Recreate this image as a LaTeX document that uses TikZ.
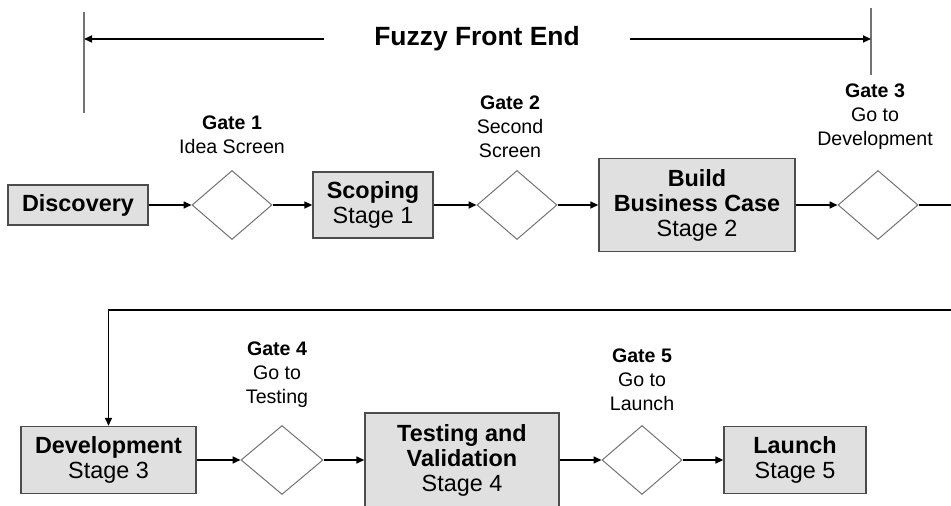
\documentclass[tikz,border=0pt]{standalone}
\usepackage{fontspec}
\setmainfont{Liberation Sans}
\usetikzlibrary{positioning, shapes.geometric, arrows.meta}

\begin{document}
\begin{tikzpicture}[
  x=0.5pt, y=-0.5pt,
  every node/.style={font=\fontsize{11.7}{12.5}\selectfont},
  box/.style={draw=black!70, fill=black!12, line width=0.7pt,
              align=center, inner sep=0pt},
  gate/.style={draw=black!55, shape=diamond, minimum width=40pt,
               minimum height=34.5pt, inner sep=0pt, line width=0.5pt},
  gatelabel/.style={align=center, font=\fontsize{9.8}{12}\selectfont},
  bound/.style={draw=black!55, line width=0.7pt},
  arr/.style={-{Triangle[length=4pt, width=3.5pt]}, line width=0.8pt},
]
  \useasboundingbox (0,0) rectangle (951,506);

  % Fuzzy front end span
  \node[font=\bfseries\fontsize{13.2}{14}\selectfont, inner xsep=25pt]
    (ffe) at (477,39) {Fuzzy Front End};
  \coordinate (ffeltop) at (84,12);
  \coordinate (ffelbot) at (84,113);
  \coordinate (ffertop) at (871,8);
  \coordinate (fferbot) at (871,75);
  \draw[bound] (ffeltop) -- (ffelbot);
  \draw[bound] (ffertop) -- (fferbot);
  \draw[arr] (ffe.west) -- (ffe.west -| ffeltop);
  \draw[arr] (ffe.east) -- (ffe.east -| ffertop);

  % First row
  \node[box, minimum width=70pt, minimum height=20pt]
    (disc) at (78,205) {\textbf{Discovery}};
  \node[gate] (g1) at (232,205) {};
  \node[box, minimum width=60pt, minimum height=33pt]
    (scop) at (373,205) {\textbf{Scoping}\\Stage 1};
  \node[gate] (g2) at (517,205) {};
  \node[box, minimum width=98pt, minimum height=46.5pt]
    (bbc) at (697,205) {\textbf{Build}\\\textbf{Business Case}\\Stage 2};
  \node[gate] (g3) at (878,205) {};

  \node[gatelabel] (l1) at (232,135) {\textbf{Gate 1}\\Idea Screen};
  \node[gatelabel] (l2) at (510,127) {\textbf{Gate 2}\\Second\\Screen};
  \node[gatelabel] (l3) at (875,116.5) {\textbf{Gate 3}\\Go to\\Development};

  % Second row
  \node[box, minimum width=87.5pt, minimum height=33.5pt]
    (dev) at (108.5,460) {\textbf{Development}\\Stage 3};
  \node[gate, minimum width=41pt] (g4) at (282,460) {};
  \node[box, minimum width=97pt, minimum height=47pt]
    (test) at (462,460) {\textbf{Testing and}\\\textbf{Validation}\\Stage 4};
  \node[gate] (g5) at (642,460) {};
  \node[box, minimum width=71pt, minimum height=33.5pt]
    (launch) at (795,460) {\textbf{Launch}\\Stage 5};

  \node[gatelabel] (l4) at (277,374.5) {\textbf{Gate 4}\\Go to\\Testing};
  \node[gatelabel] (l5) at (642,380) {\textbf{Gate 5}\\Go to\\Launch};

  % Flow
  \draw[arr] (disc) -- (g1);
  \draw[arr] (g1) -- (scop);
  \draw[arr] (scop) -- (g2);
  \draw[arr] (g2) -- (bbc);
  \draw[arr] (bbc) -- (g3);
  \coordinate (rowout) at (951,205);
  \draw[line width=0.8pt] (g3) -- (rowout);
  \coordinate (rowin) at (951,310);
  \draw[arr] (rowin) -| (dev);
  \draw[arr] (dev) -- (g4);
  \draw[arr] (g4) -- (test);
  \draw[arr] (test) -- (g5);
  \draw[arr] (g5) -- (launch);
\end{tikzpicture}
\end{document}
